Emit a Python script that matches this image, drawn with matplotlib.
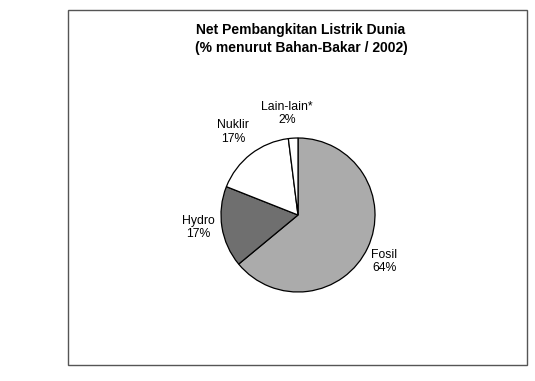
import matplotlib.pyplot as plt
from matplotlib.patches import Rectangle

plt.rcParams['font.family'] = ['Liberation Sans', 'DejaVu Sans']

# data
sources = ['Fosil', 'Hydro', 'Nuklir', 'Lain-lain*']
shares = [64, 17, 17, 2]
colors = ['#ababab', '#6f6f6f', '#ffffff', '#ffffff']

W, H = 535, 381
fig = plt.figure(figsize=(W / 100, H / 100), dpi=100)

# outer frame of the chart
fig.patches.append(Rectangle((68 / W, 1 - 365 / H), (527 - 68) / W, (365 - 10) / H,
                             transform=fig.transFigure, fill=False,
                             edgecolor='#555555', lw=1.0))

fig.text(301 / W, 1 - 30 / H, 'Net Pembangkitan Listrik Dunia',
         ha='center', va='center', fontsize=10, fontweight='bold')
fig.text(301 / W, 1 - 48 / H, '(% menurut Bahan-Bakar / 2002)',
         ha='center', va='center', fontsize=10, fontweight='bold')

# pie, centre (298, 215) px, radius 77 px
cx, cy, r = 298, 215, 77
ax = fig.add_axes([(cx - r) / W, 1 - (cy + r) / H, 2 * r / W, 2 * r / H])
ax.pie(shares, colors=colors, startangle=90, counterclock=False,
       wedgeprops=dict(edgecolor='black', linewidth=0.9))
ax.set_xlim(-1, 1)
ax.set_ylim(-1, 1)
ax.set_aspect('auto')
ax.axis('off')

label_pos = [(1.12, -0.60), (-1.30, -0.16), (-0.84, 1.08), (-0.14, 1.32)]
for name, val, (x, y) in zip(sources, shares, label_pos):
    ax.text(x, y, f'{name}\n{val}%', ha='center', va='center',
            fontsize=8.8, linespacing=1.15, clip_on=False)

fig.savefig('out.png', dpi=100)
